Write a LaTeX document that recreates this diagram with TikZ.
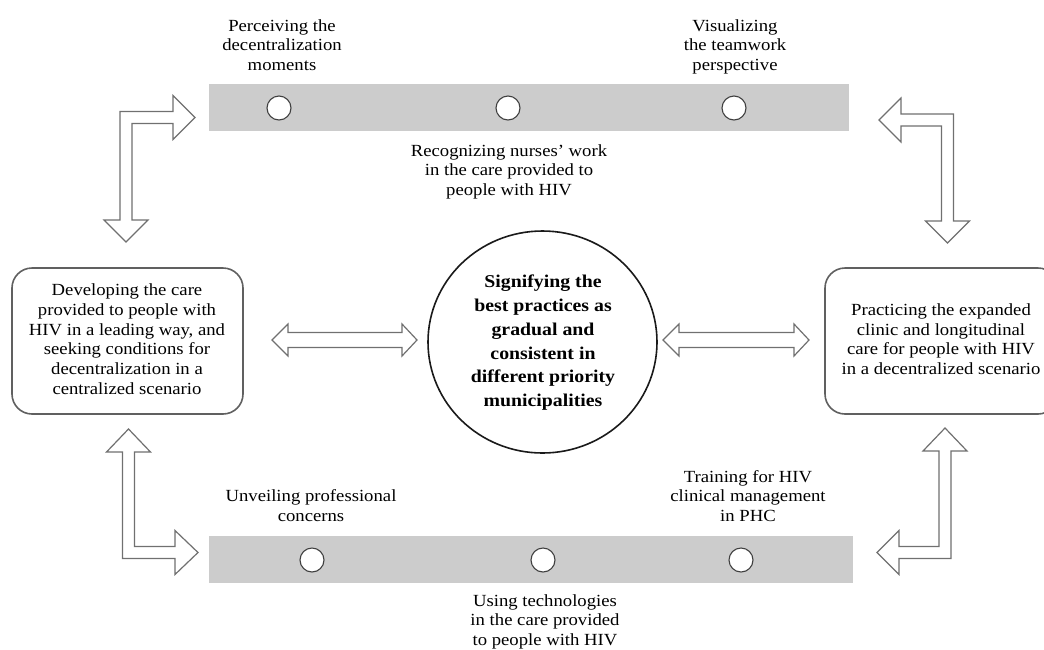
\documentclass[tikz,border=0pt]{standalone}
\usepackage{fontspec}
\setmainfont{Liberation Serif}
\usepackage{graphicx}
\usetikzlibrary{shapes.geometric}
\definecolor{bargray}{HTML}{CCCCCC}
\definecolor{arrgray}{HTML}{707070}
\definecolor{boxgray}{HTML}{606060}
\definecolor{dotgray}{HTML}{404040}
\definecolor{ringcol}{HTML}{1A1A1A}
\newcommand\mlines[1]{\scalebox{1.1}[1]{\begin{tabular}{@{}c@{}}#1\end{tabular}}}
\tikzset{
  arrowshape/.style={draw=arrgray, fill=white, line width=1.2pt, line join=miter},
  barstrip/.style={fill=bargray, draw=none, inner sep=0pt},
  dotmark/.style={circle, draw=dotgray, fill=white, line width=1.1pt, minimum size=24pt, inner sep=0pt},
  roundbox/.style={rectangle, rounded corners=20pt, draw=boxgray, line width=1.6pt, fill=white, inner sep=0pt},
  lab/.style={inner sep=0pt, font=\fontsize{17}{19.7}\selectfont},
  boldlab/.style={inner sep=0pt, font=\fontsize{18}{23.8}\selectfont\bfseries},
}
\begin{document}
\begin{tikzpicture}[x=1pt, y=-1pt]
\useasboundingbox (0,0) rectangle (1044,649);
\fill[white] (0,0) rectangle (1044,649);

% bars
\node[barstrip, minimum width=640pt, minimum height=47pt] (topbar) at (529,107.5) {};
\node[barstrip, minimum width=644pt, minimum height=47pt] (botbar) at (531,559) {};
\node[dotmark] (t1) at (279,108) {};
\node[dotmark] (t2) at (508,108) {};
\node[dotmark] (t3) at (734,108) {};
\node[dotmark] (b1) at (312,560) {};
\node[dotmark] (b2) at (543,560) {};
\node[dotmark] (b3) at (741,560) {};

% bar labels
\node[lab] (lt1) at (282,47) {\mlines{Perceiving the\\decentralization\\moments}};
\node[lab] (lt3) at (735,47) {\mlines{Visualizing\\the teamwork\\perspective}};
\node[lab] (lt2) at (509,172) {\mlines{Recognizing nurses' work\\in the care provided to\\people with HIV}};
\node[lab] (lb1) at (311,507.5) {\mlines{Unveiling professional\\concerns}};
\node[lab] (lb3) at (748,498) {\mlines{Training for HIV\\clinical management\\in PHC}};
\node[lab] (lb2) at (545,622) {\mlines{Using technologies\\in the care provided\\to people with HIV}};

% side boxes
\node[roundbox, minimum width=231pt, minimum height=146pt] (L) at (127.5,341) {};
\node[lab] (Ltext) at (127,341) {\mlines{Developing the care\\provided to people with\\HIV in a leading way, and\\seeking conditions for\\decentralization in a\\centralized scenario}};
\node[roundbox, minimum width=233pt, minimum height=146pt] (R) at (941.5,341) {};
\node[lab] (Rtext) at (941,341) {\mlines{Practicing the expanded\\clinic and longitudinal\\care for people with HIV\\in a decentralized scenario}};

% central ellipse
\node[ellipse, draw=ringcol, line width=1.6pt, fill=white, minimum width=229pt, minimum height=222pt, inner sep=0pt] (C) at (542.5,342) {};
\node[boldlab] (Ctext) at (543,342.5) {\mlines{Signifying the\\best practices as\\gradual and\\consistent in\\different priority\\municipalities}};

% middle double arrows
\draw[arrowshape] (272,340) -- (288,324) -- (288,332.5) -- (402,332.5) -- (402,324) -- (417,340) -- (402,356) -- (402,347.5) -- (288,347.5) -- (288,356) -- cycle;
\draw[arrowshape] (663,340) -- (679,324) -- (679,332.5) -- (794,332.5) -- (794,324) -- (809,340) -- (794,356) -- (794,347.5) -- (679,347.5) -- (679,356) -- cycle;

% top-left L arrow
\draw[arrowshape] (120,111.5) -- (173,111.5) -- (173,95.5) -- (195,117.5) -- (173,139.5) -- (173,123.5) -- (132,123.5) -- (132,220) -- (148,220) -- (126,242) -- (104,220) -- (120,220) -- cycle;
% top-right L arrow
\draw[arrowshape] (953.5,114) -- (953.5,221) -- (969.5,221) -- (947.5,243) -- (925.5,221) -- (941.5,221) -- (941.5,126) -- (901,126) -- (901,142) -- (879,120) -- (901,98) -- (901,114) -- cycle;
% bottom-left L arrow
\draw[arrowshape] (122.5,558.5) -- (122.5,452) -- (106.5,452) -- (128.5,429) -- (150.5,452) -- (134.5,452) -- (134.5,546.5) -- (175,546.5) -- (175,530.5) -- (198,552.5) -- (175,574.5) -- (175,558.5) -- cycle;
% bottom-right L arrow
\draw[arrowshape] (951,558.5) -- (951,451) -- (967,451) -- (945,428) -- (923,451) -- (939,451) -- (939,546.5) -- (899,546.5) -- (899,530.5) -- (877,552.5) -- (899,574.5) -- (899,558.5) -- cycle;
\end{tikzpicture}
\end{document}
